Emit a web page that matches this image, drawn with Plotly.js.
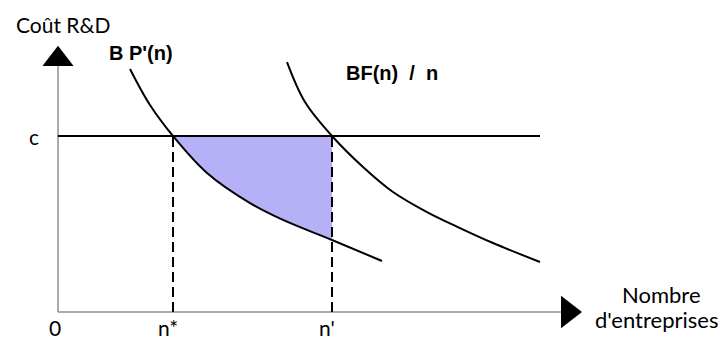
<!DOCTYPE html>
<html>
<head>
<meta charset="utf-8">
<script src="https://cdn.plot.ly/plotly-3.0.1.min.js"></script>
<style>
  html, body { margin: 0; padding: 0; background: #fff; }
  #chart { width: 723px; height: 341px; }
</style>
</head>
<body>
<div id="chart"></div>
<script>
// courbe BP'(n)
const bpX = [1.44, 1.84, 2.30, 2.98, 3.84, 4.50, 5.48, 6.48];
const bpY = [1.381, 1.176, 1.00, 0.790, 0.619, 0.523, 0.409, 0.290];

// courbe BF(n) / n
const bfX = [4.58, 4.94, 5.48, 6.10, 6.70, 7.38, 8.04, 8.70, 9.64];
const bfY = [1.420, 1.193, 1.00, 0.824, 0.682, 0.568, 0.477, 0.392, 0.284];

// niveaux remarquables
const cost = 1.0;      // c
const nStar = 2.30;    // n*
const nPrime = 5.48;   // n'
const costEnd = 9.64;
const xAxisEnd = 10.06;
const yAxisEnd = 1.40;

const black = '#000';
const axisGrey = '#8f8f8f';

// portion de BP'(n) entre n* et n'
const areaX = [];
const areaY = [];
bpX.forEach((x, i) => {
    if (x >= nStar && x <= nPrime) {
        areaX.push(x);
        areaY.push(bpY[i]);
    }
});

const traces = [
    // zone hachurée entre c et BP'(n)
    { x: [nStar, nPrime], y: [cost, cost], mode: 'lines', line: { width: 0 } },
    {
        x: areaX, y: areaY, mode: 'lines', fill: 'tonexty',
        fillcolor: 'rgb(182,176,246)', line: { width: 0, shape: 'spline' }
    },
    // axes
    { x: [0, 0], y: [0, yAxisEnd], mode: 'lines', line: { color: axisGrey, width: 1.5 } },
    { x: [0, xAxisEnd], y: [0, 0], mode: 'lines', line: { color: axisGrey, width: 1.5 } },
    // flèches
    {
        x: [0], y: [1.436], mode: 'markers',
        marker: { symbol: 'triangle-up', size: 27, color: black }
    },
    {
        x: [10.2], y: [0], mode: 'markers',
        marker: { symbol: 'triangle-right', size: 28, color: black }
    },
    // niveau c
    { x: [0, costEnd], y: [cost, cost], mode: 'lines', line: { color: black, width: 2 } },
    // pointillés n* et n'
    { x: [nStar, nStar], y: [0, cost], mode: 'lines', line: { color: black, width: 2, dash: '10px,5px' } },
    { x: [nPrime, nPrime], y: [0, cost], mode: 'lines', line: { color: black, width: 2, dash: '10px,5px' } },
    // courbes
    { x: bpX, y: bpY, mode: 'lines', line: { color: black, width: 2, shape: 'spline' } },
    { x: bfX, y: bfY, mode: 'lines', line: { color: black, width: 2, shape: 'spline' } }
];

const labelFont = { family: 'Lato, sans-serif', size: 21, color: black };
const axisFont = { family: 'Lato, sans-serif', size: 22, color: black };
const curveFont = {
    family: '"Liberation Sans Narrow", "Liberation Sans", sans-serif',
    size: 20, color: black, weight: 'bold'
};

function label(text, x, y, font, extra) {
    return Object.assign({
        text: text, x: x, y: y, xref: 'x', yref: 'y',
        showarrow: false, font: font, xanchor: 'center', yanchor: 'middle'
    }, extra || {});
}

const annotations = [
    label('Coût R&D', 0.1, 1.636, labelFont),
    label("B P'(n)", 1.66, 1.47, curveFont),
    label('BF(n)  /  n', 6.68, 1.358, curveFont),
    label('c', -0.48, cost, labelFont),
    label('0', -0.06, -0.09, labelFont),
    label('n*', nStar, -0.09, labelFont, { xshift: -5 }),
    label("n'", nPrime, -0.09, labelFont, { xshift: -5 }),
    label('Nombre', 12.06, 0.097, axisFont),
    label("d'entreprises", 11.96, -0.04, axisFont)
];

const layout = {
    width: 723,
    height: 341,
    margin: { l: 0, r: 0, t: 0, b: 0, pad: 0 },
    paper_bgcolor: '#fff',
    plot_bgcolor: '#fff',
    showlegend: false,
    xaxis: { range: [-1.16, 13.3], visible: false, fixedrange: true },
    yaxis: { range: [-0.1648, 1.7727], visible: false, fixedrange: true },
    annotations: annotations,
    hovermode: false
};

Plotly.newPlot('chart', traces, layout, { displayModeBar: false, staticPlot: true });
</script>
</body>
</html>
